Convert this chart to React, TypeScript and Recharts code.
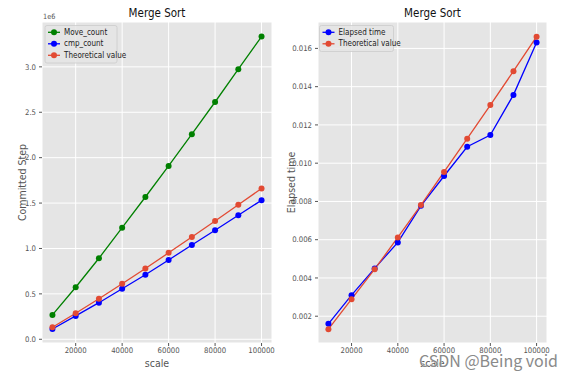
import React from 'react';
import { LineChart, Line, XAxis, YAxis, CartesianGrid, Label } from 'recharts';

// ---- data ----
const scale = [10000, 20000, 30000, 40000, 50000, 60000, 70000, 80000, 90000, 100000];
const moveCount = [268000, 573000, 892000, 1229000, 1567000, 1909000, 2258000, 2613000, 2974000, 3333000];
const cmpCount = [113000, 257000, 403000, 557000, 711000, 873000, 1039000, 1200000, 1366000, 1531000];
const theoreticalSteps = [133000, 286000, 446000, 612000, 780000, 952000, 1127000, 1303000, 1481000, 1661000];
const elapsedTime = [0.0016, 0.0031, 0.0045, 0.00586, 0.00777, 0.00933, 0.01086, 0.01147, 0.01357, 0.01631];
const theoreticalTime = [0.00132, 0.00289, 0.00446, 0.00612, 0.00781, 0.00954, 0.01128, 0.01304, 0.01481, 0.01661];
const xTicks = [20000, 40000, 60000, 80000, 100000];
const stepTicks = [0, 500000, 1000000, 1500000, 2000000, 2500000, 3000000];
const timeTicks = [0.002, 0.004, 0.006, 0.008, 0.01, 0.012, 0.014, 0.016];
const stepLegend = ['Move_count', 'cmp_count', 'Theoretical value'];
const timeLegend = ['Elapsed time', 'Theoretical value'];

const stepsData = scale.map((s, i) => ({ scale: s, move: moveCount[i], cmp: cmpCount[i], theory: theoreticalSteps[i] }));
const timeData = scale.map((s, i) => ({ scale: s, elapsed: elapsedTime[i], theory: theoreticalTime[i] }));

// ---- style ----
const FONT = "'Liberation Sans Narrow', 'DejaVu Sans Condensed', 'Liberation Sans', sans-serif";
const GRAY = '#555555';
const BG = '#E5E5E5';
const GREEN = '#008000';
const BLUE = '#0000FF';
const RED = '#E24A33';
const TICK_FS = 7.7;

const tickStyle = { fill: GRAY, fontSize: TICK_FS, fontFamily: FONT };

const dotOf = (c: string) => ({ r: 3, fill: c, stroke: c, strokeWidth: 0 });

function LegendBox({ x, y, w, labels, colors }: { x: number; y: number; w: number; labels: string[]; colors: string[] }) {
  const rowH = 11.5;
  const h = labels.length * rowH + 3;
  return (
    <g>
      <rect x={x} y={y} width={w} height={h} rx={2} fill={BG} fillOpacity={0.85} stroke="#CCCCCC" strokeWidth={0.8} />
      {labels.map((l, i) => {
        const cy = y + 6.8 + i * rowH;
        return (
          <g key={l}>
            <line x1={x + 3} x2={x + 15} y1={cy} y2={cy} stroke={colors[i]} strokeWidth={1.3} />
            <circle cx={x + 9} cy={cy} r={3} fill={colors[i]} />
            <text x={x + 19} y={cy} dominantBaseline="central" fontSize={8} fontFamily={FONT} fill="#222">{l}</text>
          </g>
        );
      })}
    </g>
  );
}

export default function App() {
  return (
    <div style={{ position: 'absolute', left: 0, top: 0, width: 567, height: 378, background: '#fff', overflow: 'hidden' }}>
      <div style={{ position: 'absolute', left: 0, top: 0 }}>
        <LineChart width={280} height={378} data={stepsData} margin={{ top: 22, right: 8, bottom: 0, left: 0 }}>
          <CartesianGrid stroke="#FFFFFF" strokeWidth={1} fill={BG} fillOpacity={1} />
          <XAxis dataKey="scale" type="number" domain={[5500, 104500]} ticks={xTicks} allowDataOverflow interval={0}
            tick={tickStyle} tickLine={{ stroke: GRAY }} axisLine={false} tickSize={3} tickMargin={2} height={35}>
            <Label content={(p: any) => {
              const vb = p.viewBox || { x: 42, width: 230 };
              return <text x={vb.x + vb.width / 2} y={363} textAnchor="middle" dominantBaseline="central" fontSize={10.5} fontFamily={FONT} fill={GRAY}>scale</text>;
            }} />
          </XAxis>
          <YAxis type="number" domain={[-41000, 3494000]} ticks={stepTicks} allowDataOverflow interval={0}
            tickFormatter={(v: number) => (v / 1e6).toFixed(1)}
            tick={tickStyle} tickLine={{ stroke: GRAY }} axisLine={false} tickSize={3} tickMargin={3} width={42}>
            <Label content={(p: any) => {
              const vb = p.viewBox || { y: 22, height: 321 };
              const cy = vb.y + vb.height / 2;
              return <text x={22} y={cy} transform={`rotate(-90, 22, ${cy})`} textAnchor="middle" dominantBaseline="central" fontSize={10.5} fontFamily={FONT} fill={GRAY}>Committed Step</text>;
            }} />
          </YAxis>
          <Line type="linear" dataKey="move" stroke={GREEN} strokeWidth={1.3} dot={dotOf(GREEN)} activeDot={false} isAnimationActive={false} />
          <Line type="linear" dataKey="cmp" stroke={BLUE} strokeWidth={1.3} dot={dotOf(BLUE)} activeDot={false} isAnimationActive={false} />
          <Line type="linear" dataKey="theory" stroke={RED} strokeWidth={1.3} dot={dotOf(RED)} activeDot={false} isAnimationActive={false} />
        </LineChart>
      </div>
      <div style={{ position: 'absolute', left: 280, top: 0 }}>
        <LineChart width={287} height={378} data={timeData} margin={{ top: 22, right: 20, bottom: 0, left: 0 }}>
          <CartesianGrid stroke="#FFFFFF" strokeWidth={1} fill={BG} fillOpacity={1} />
          <XAxis dataKey="scale" type="number" domain={[5500, 104500]} ticks={xTicks} allowDataOverflow interval={0}
            tick={tickStyle} tickLine={{ stroke: GRAY }} axisLine={false} tickSize={3} tickMargin={2} height={35}>
            <Label content={(p: any) => {
              const vb = p.viewBox || { x: 38, width: 229 };
              return <text x={vb.x + vb.width / 2} y={363} textAnchor="middle" dominantBaseline="central" fontSize={10.5} fontFamily={FONT} fill={GRAY}>scale</text>;
            }} />
          </XAxis>
          <YAxis type="number" domain={[0.0006, 0.01738]} ticks={timeTicks} allowDataOverflow interval={0}
            tickFormatter={(v: number) => v.toFixed(3)}
            tick={tickStyle} tickLine={{ stroke: GRAY }} axisLine={false} tickSize={3} tickMargin={3} width={38}>
            <Label content={(p: any) => {
              const vb = p.viewBox || { y: 22, height: 321 };
              const cy = vb.y + vb.height / 2;
              return <text x={10.5} y={cy} transform={`rotate(-90, 10.5, ${cy})`} textAnchor="middle" dominantBaseline="central" fontSize={10.5} fontFamily={FONT} fill={GRAY}>Elapsed time</text>;
            }} />
          </YAxis>
          <Line type="linear" dataKey="elapsed" stroke={BLUE} strokeWidth={1.3} dot={dotOf(BLUE)} activeDot={false} isAnimationActive={false} />
          <Line type="linear" dataKey="theory" stroke={RED} strokeWidth={1.3} dot={dotOf(RED)} activeDot={false} isAnimationActive={false} />
        </LineChart>
      </div>
      <svg width={567} height={378} style={{ position: 'absolute', left: 0, top: 0, pointerEvents: 'none' }}>
        <text x={157} y={13} textAnchor="middle" dominantBaseline="central" fontSize={11.5} fontFamily={FONT} fill="#111">Merge Sort</text>
        <text x={432.5} y={13} textAnchor="middle" dominantBaseline="central" fontSize={11.5} fontFamily={FONT} fill="#111">Merge Sort</text>
        <text x={43} y={16} dominantBaseline="central" fontSize={7.3} fontFamily={FONT} fill={GRAY}>1e6</text>
        <LegendBox x={45} y={25.5} w={72} labels={stepLegend} colors={[GREEN, BLUE, RED]} />
        <LegendBox x={319.5} y={25.5} w={74} labels={timeLegend} colors={[BLUE, RED]} />
        <text x={419} y={360} dominantBaseline="central" fontSize={16} fontFamily="'Noto Sans CJK SC', 'Noto Sans', sans-serif" fill="#8a8a8a" stroke="#ffffff" strokeWidth={0.6} paintOrder="stroke">CSDN @Being void</text>
      </svg>
    </div>
  );
}
